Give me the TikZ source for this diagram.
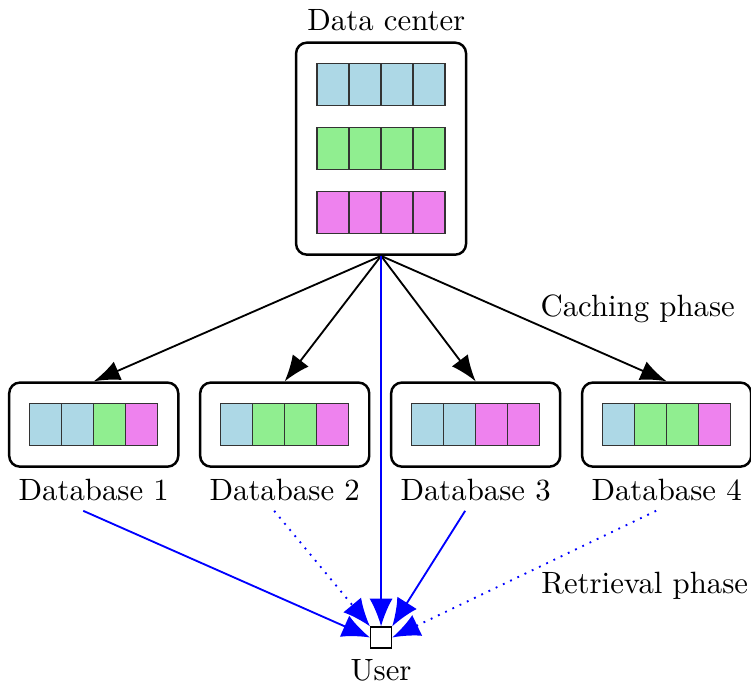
\documentclass[tikz,border=0pt]{standalone}
\usepackage{tikz}
\usetikzlibrary{positioning}
\usetikzlibrary{arrows.meta}
\usetikzlibrary{calc}
\definecolor{lblue}{RGB}{173,216,230}
\definecolor{lgreen}{RGB}{144,238,144}
\definecolor{lviolet}{RGB}{238,130,238}
\tikzstyle{dcnode}=[draw=black,line width=0.8pt,rounded corners=3.5pt,fill=white,minimum width=1.94cm,minimum height=2.42cm]
\tikzstyle{dbnode}=[draw=black,line width=0.8pt,rounded corners=3.5pt,fill=white,minimum width=1.93cm,minimum height=0.96cm]
\tikzstyle{cellnode}=[draw=black!80,line width=0.4pt,inner sep=0pt,minimum width=0.365cm,minimum height=0.48cm]
\tikzstyle{usernode}=[draw=black,line width=0.4pt,fill=white,inner sep=0pt,minimum size=0.24cm]
\tikzstyle{cacharo}=[-{Latex[length=8.5pt,width=6.5pt]},line width=0.6pt,color=black]
\tikzstyle{getaro}=[-{Latex[length=9pt,width=7.5pt]},line width=0.6pt,color=blue]
\tikzstyle{getdot}=[getaro,dotted]

\begin{document}
\begin{tikzpicture}
	\useasboundingbox (0, 0) rectangle (8.573, 7.797);
	
	% Data center
	\node[dcnode, label={[xshift=0.06cm]above:Data center}] (dc) at (4.35, 6.10) {};
	\node[cellnode, fill=lblue] (dcb1) at ($(dc) + (-0.548, 0.73)$) {};
	\node[cellnode, fill=lblue] (dcb2) at ($(dc) + (-0.183, 0.73)$) {};
	\node[cellnode, fill=lblue] (dcb3) at ($(dc) + (0.183, 0.73)$) {};
	\node[cellnode, fill=lblue] (dcb4) at ($(dc) + (0.548, 0.73)$) {};
	\node[cellnode, fill=lgreen] (dcg1) at ($(dc) + (-0.548, 0)$) {};
	\node[cellnode, fill=lgreen] (dcg2) at ($(dc) + (-0.183, 0)$) {};
	\node[cellnode, fill=lgreen] (dcg3) at ($(dc) + (0.183, 0)$) {};
	\node[cellnode, fill=lgreen] (dcg4) at ($(dc) + (0.548, 0)$) {};
	\node[cellnode, fill=lviolet] (dcv1) at ($(dc) + (-0.548, -0.73)$) {};
	\node[cellnode, fill=lviolet] (dcv2) at ($(dc) + (-0.183, -0.73)$) {};
	\node[cellnode, fill=lviolet] (dcv3) at ($(dc) + (0.183, -0.73)$) {};
	\node[cellnode, fill=lviolet] (dcv4) at ($(dc) + (0.548, -0.73)$) {};
	
	% Databases
	\node[dbnode, label=below:{Database 1}] (db1) at (1.07, 2.95) {};
	\node[cellnode, fill=lblue] (d1c1) at ($(db1) + (-0.548, 0)$) {};
	\node[cellnode, fill=lblue] (d1c2) at ($(db1) + (-0.183, 0)$) {};
	\node[cellnode, fill=lgreen] (d1c3) at ($(db1) + (0.183, 0)$) {};
	\node[cellnode, fill=lviolet] (d1c4) at ($(db1) + (0.548, 0)$) {};
	\node[dbnode, label=below:{Database 2}] (db2) at ($(db1) + (2.18, 0)$) {};
	\node[cellnode, fill=lblue] (d2c1) at ($(db2) + (-0.548, 0)$) {};
	\node[cellnode, fill=lgreen] (d2c2) at ($(db2) + (-0.183, 0)$) {};
	\node[cellnode, fill=lgreen] (d2c3) at ($(db2) + (0.183, 0)$) {};
	\node[cellnode, fill=lviolet] (d2c4) at ($(db2) + (0.548, 0)$) {};
	\node[dbnode, label=below:{Database 3}] (db3) at ($(db2) + (2.18, 0)$) {};
	\node[cellnode, fill=lblue] (d3c1) at ($(db3) + (-0.548, 0)$) {};
	\node[cellnode, fill=lblue] (d3c2) at ($(db3) + (-0.183, 0)$) {};
	\node[cellnode, fill=lviolet] (d3c3) at ($(db3) + (0.183, 0)$) {};
	\node[cellnode, fill=lviolet] (d3c4) at ($(db3) + (0.548, 0)$) {};
	\node[dbnode, label=below:{Database 4}] (db4) at ($(db3) + (2.18, 0)$) {};
	\node[cellnode, fill=lblue] (d4c1) at ($(db4) + (-0.548, 0)$) {};
	\node[cellnode, fill=lgreen] (d4c2) at ($(db4) + (-0.183, 0)$) {};
	\node[cellnode, fill=lgreen] (d4c3) at ($(db4) + (0.183, 0)$) {};
	\node[cellnode, fill=lviolet] (d4c4) at ($(db4) + (0.548, 0)$) {};
	
	% User
	\node[usernode, label=below:{User}] (user) at (4.35, 0.52) {};
	
	% Caching phase
	\node (cache) at (7.28, 4.27) {Caching phase};
	\draw[cacharo] (dc.south) -- (db1.north);
	\draw[cacharo] (dc.south) -- (db2.north);
	\draw[cacharo] (dc.south) -- (db3.north);
	\draw[cacharo] (dc.south) -- (db4.north);
	
	% Retrieval phase
	\node (retrieve) at (7.36, 1.11) {Retrieval phase};
	\coordinate (s1) at ($(db1.south) + (-0.12, -0.49)$);
	\coordinate (s2) at ($(db2.south) + (-0.12, -0.49)$);
	\coordinate (s3) at ($(db3.south) + (-0.12, -0.49)$);
	\coordinate (s4) at ($(db4.south) + (-0.12, -0.49)$);
	\draw[getaro] (s1) -- (user.west);
	\draw[getdot] (s2) -- (user.north west);
	\draw[getaro] (dc.south) -- (user.north);
	\draw[getaro] (s3) -- (user.north east);
	\draw[getdot] (s4) -- (user.east);
	
\end{tikzpicture}
\end{document}
